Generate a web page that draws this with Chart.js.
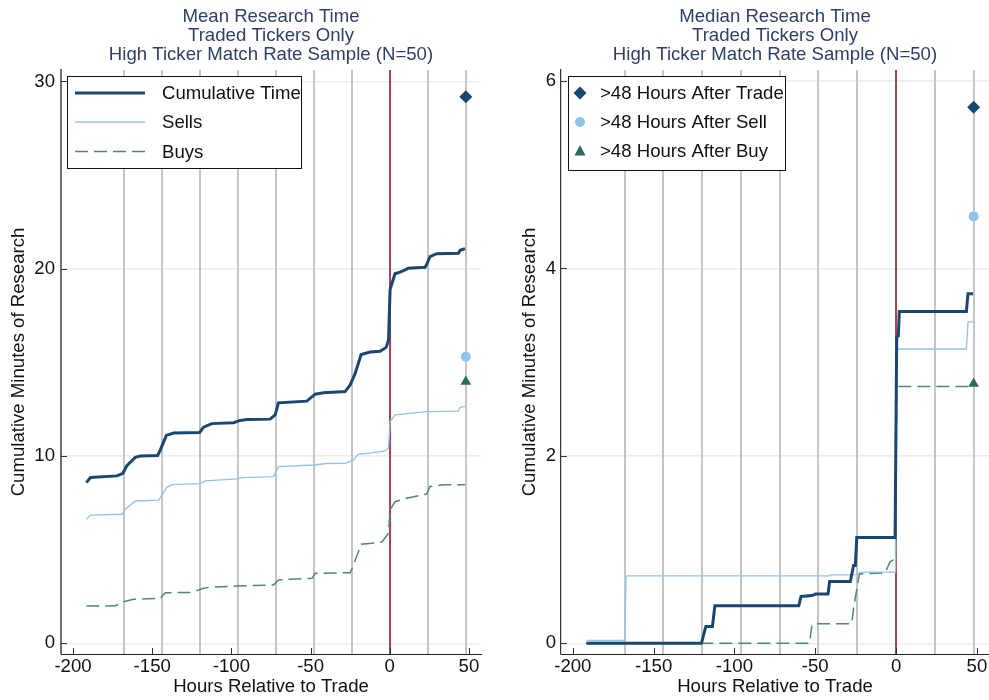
<!DOCTYPE html>
<html>
<head>
<meta charset="utf-8">
<script src="https://cdn.jsdelivr.net/npm/chart.js@4.4.1/dist/chart.umd.min.js"></script>
<style>
  body { margin: 0; background: #fff; }
  #wrap { position: relative; width: 989px; height: 700px; }
  canvas { position: absolute; top: 0; }
</style>
</head>
<body>
<div id="wrap">
  <canvas id="js--mean" width="494" height="700" style="left:0"></canvas>
  <canvas id="js--median" width="495" height="700" style="left:494px"></canvas>
</div>
<script>
// ticks en hulplijnen
const xTicks = [-200, -150, -100, -50, 0, 50];
const meanTicks = [0, 10, 20, 30];
const medianTicks = [0, 2, 4, 6];
const dayLines = [-168, -144, -120, -96, -72, -48, -24, 24, 48];
const tradeHour = 0;
const afterHour = 48;

const meanLabels = ["Cumulative Time", "Sells", "Buys"];
const medianLabels = [">48 Hours After Trade", ">48 Hours After Sell", ">48 Hours After Buy"];

// gemiddelde (links)
const meanCumHours = [-191.6, -189, -172.3, -168.5, -166, -160.7, -157.5, -146.6, -145, -141.1, -136.5, -120.1, -117.6, -112.4, -98.7, -94.4, -90.2, -75.5, -72.4, -70.3, -52.4, -47.1, -41.9, -28.2, -25, -21.9, -18.1, -12.4, -6.1, -2.3, -0.8, 0.2, 3.3, 6.5, 9.7, 11.7, 22.3, 23.7, 25.4, 29.6, 43.3, 44.4, 47.5];
const meanCumVals = [8.58, 8.85, 8.94, 9.08, 9.49, 9.93, 10.0, 10.03, 10.3, 11.1, 11.23, 11.25, 11.54, 11.73, 11.78, 11.9, 11.95, 11.97, 12.2, 12.84, 12.93, 13.3, 13.38, 13.44, 13.8, 14.4, 15.42, 15.55, 15.59, 15.8, 16.2, 18.9, 19.73, 19.82, 19.94, 20.03, 20.08, 20.3, 20.65, 20.8, 20.83, 20.98, 21.07];
const meanSellHours = [-191.6, -189, -169.1, -167, -160.7, -146, -143.9, -140.8, -137.6, -119.7, -116.5, -96.5, -93.4, -73.4, -70.3, -48.2, -39.7, -28.2, -22.9, -19.8, -12.4, -3, -0.8, 0.2, 3.3, 23.3, 43.3, 44.4, 47.5];
const meanSellVals = [6.62, 6.85, 6.89, 7.16, 7.6, 7.65, 7.92, 8.33, 8.47, 8.53, 8.67, 8.78, 8.85, 8.9, 9.43, 9.52, 9.6, 9.61, 9.79, 10.1, 10.15, 10.27, 10.42, 11.84, 12.2, 12.37, 12.4, 12.6, 12.65];
const meanBuyHours = [-191.6, -173.3, -168.1, -161.8, -144.9, -141.8, -124.9, -117.6, -113.4, -96.5, -73.4, -70.3, -65, -49.1, -47.1, -25, -22.9, -18.1, -11.4, -5.1, -0.8, 0.2, 3.3, 10.7, 23.3, 25.4, 33.8, 47.5];
const meanBuyVals = [1.99, 2.0, 2.22, 2.35, 2.4, 2.7, 2.72, 2.94, 3.0, 3.06, 3.11, 3.38, 3.42, 3.47, 3.74, 3.77, 4.18, 5.29, 5.34, 5.4, 5.88, 7.12, 7.56, 7.75, 7.97, 8.37, 8.46, 8.47];
const meanAfter = [29.18, 15.3, 13.97]; // trade, sell, buy

// mediaan (rechts)
const medCumHours = [-191.6, -120.4, -117.7, -113.6, -112.1, -60.2, -58.8, -52, -49.9, -42.1, -41.1, -28.3, -26.3, -25.2, -24.3, -0.6, 0.4, 1.4, 2.0, 43.5, 44.5, 47.6];
const medCumVals = [0, 0, 0.18, 0.18, 0.40, 0.40, 0.50, 0.51, 0.525, 0.525, 0.66, 0.66, 0.83, 0.83, 1.13, 1.13, 3.27, 3.28, 3.54, 3.54, 3.73, 3.73];
const medSellHours = [-191.6, -168, -167, -41.5, -40.5, -24.3, -22.2, -0.3, 0.4, 43.5, 44.5, 47.6];
const medSellVals = [0.03, 0.03, 0.72, 0.72, 0.73, 0.73, 0.76, 0.76, 3.14, 3.14, 3.43, 3.43];
const medBuyHours = [-191.6, -53.6, -52, -48.5, -27.4, -26.3, -23.2, -22.6, -6.8, -3.7, -1.7, -0.3, 0.4, 47.6];
const medBuyVals = [0, 0, 0.2, 0.21, 0.21, 0.37, 0.69, 0.74, 0.75, 0.87, 0.89, 0.89, 2.74, 2.74];
const medAfter = [5.72, 4.555, 2.77];

const navy = "#1a476f";
const ltblue = "#8fc3ea";
const teal = "#2d6b61";
const tealLine = "#4f857d";
const titleColor = "#2f3f63";
const fs = 18.6;

Chart.defaults.font.family = "'Liberation Sans', Arial, sans-serif";
Chart.defaults.font.size = fs;
Chart.defaults.color = "#111";

function lineSet(label, hours, vals, color, width, dash) {
    return {
        type: "line",
        label: label,
        data: hours.map((h, i) => ({x: h, y: vals[i]})),
        borderColor: color,
        borderWidth: width,
        borderDash: dash || [],
        pointRadius: 0,
        tension: 0,
        fill: false
    };
}

function markerSet(label, val, style, color, r) {
    return {
        type: "scatter",
        label: label,
        data: [{x: afterHour, y: val}],
        pointStyle: style,
        pointRadius: r,
        backgroundColor: color,
        borderColor: color,
        borderWidth: 0
    };
}

// grijze lijnen per dag, rode lijn op trade, ticks naar binnen, legenda
const decoPlugin = {
    id: "deco",
    beforeDatasetsDraw(chart) {
        const {ctx, chartArea: a} = chart;
        const x = chart.scales.x;
        ctx.save();
        ctx.lineWidth = 2;
        ctx.strokeStyle = "#c4c4c4";
        dayLines.forEach(h => {
            const px = Math.round(x.getPixelForValue(h));
            ctx.beginPath();
            ctx.moveTo(px, a.top);
            ctx.lineTo(px, a.bottom);
            ctx.stroke();
        });
        ctx.strokeStyle = "#a5474c";
        const p0 = Math.round(x.getPixelForValue(tradeHour));
        ctx.beginPath();
        ctx.moveTo(p0, a.top);
        ctx.lineTo(p0, a.bottom);
        ctx.stroke();
        ctx.restore();
    },
    afterDatasetsDraw(chart) {
        const {ctx, chartArea: a} = chart;
        const x = chart.scales.x, y = chart.scales.y;
        ctx.save();
        ctx.strokeStyle = "#333";
        ctx.lineWidth = 1;
        x.ticks.forEach(t => {
            const px = Math.round(x.getPixelForValue(t.value)) + 0.5;
            ctx.beginPath();
            ctx.moveTo(px, a.bottom);
            ctx.lineTo(px, a.bottom - 6);
            ctx.stroke();
        });
        y.ticks.forEach(t => {
            const py = Math.round(y.getPixelForValue(t.value)) + 0.5;
            ctx.beginPath();
            ctx.moveTo(a.left, py);
            ctx.lineTo(a.left + 6, py);
            ctx.stroke();
        });
        ctx.restore();
    },
    afterDraw(chart) {
        const lg = chart.options.plugins.deco;
        if (!lg) return;
        const ctx = chart.ctx;
        ctx.save();
        ctx.fillStyle = "#fff";
        ctx.fillRect(lg.box[0], lg.box[1], lg.box[2], lg.box[3]);
        ctx.strokeStyle = "#111";
        ctx.lineWidth = 1;
        ctx.strokeRect(lg.box[0] + 0.5, lg.box[1] + 0.5, lg.box[2], lg.box[3]);
        ctx.font = fs + "px 'Liberation Sans', Arial, sans-serif";
        ctx.textBaseline = "middle";
        ctx.textAlign = "left";
        lg.items.forEach((it, i) => {
            const yy = lg.rows[i];
            ctx.save();
            if (it.kind === "line") {
                ctx.strokeStyle = it.color;
                ctx.lineWidth = it.width;
                ctx.setLineDash(it.dash || []);
                ctx.beginPath();
                ctx.moveTo(lg.sample[0], yy);
                ctx.lineTo(lg.sample[1], yy);
                ctx.stroke();
            } else {
                const cx = lg.sample[0];
                ctx.fillStyle = it.color;
                ctx.beginPath();
                if (it.kind === "diamond") {
                    ctx.moveTo(cx, yy - 6.5); ctx.lineTo(cx + 6.5, yy);
                    ctx.lineTo(cx, yy + 6.5); ctx.lineTo(cx - 6.5, yy);
                } else if (it.kind === "circle") {
                    ctx.arc(cx, yy, 5, 0, Math.PI * 2);
                } else {
                    ctx.moveTo(cx, yy - 6); ctx.lineTo(cx + 5.5, yy + 4.5); ctx.lineTo(cx - 5.5, yy + 4.5);
                }
                ctx.closePath();
                ctx.fill();
            }
            ctx.restore();
            ctx.fillStyle = "#111";
            ctx.fillText(it.label, lg.textX, yy + 1);
        });
        ctx.restore();
    }
};

function makeChart(id, o) {
    return new Chart(document.getElementById(id), {
        data: {datasets: o.datasets},
        options: {
            responsive: false,
            animation: false,
            layout: {autoPadding: false, padding: {left: 0, top: 0, bottom: 0, right: o.padRight}},
            plugins: {
                legend: {display: false},
                tooltip: {enabled: false},
                title: {
                    display: true,
                    text: o.title,
                    color: titleColor,
                    fullSize: false,
                    font: {size: fs, weight: "normal", lineHeight: 19 / fs},
                    padding: {top: 7.5, bottom: 5.5}
                },
                deco: o.legend
            },
            scales: {
                x: {
                    type: "linear",
                    min: o.xMin,
                    max: o.xMax,
                    afterBuildTicks: s => { s.ticks = xTicks.map(v => ({value: v})); },
                    afterFit: s => { s.height = 46; s.paddingLeft = 0; s.paddingRight = 0; },
                    grid: {display: false, drawTicks: false},
                    border: {display: true, color: "#222", width: 1},
                    ticks: {padding: 2, color: "#111", callback: v => String(v)},
                    title: {display: true, text: "Hours Relative to Trade", color: "#111", padding: {top: 0, bottom: 2}}
                },
                y: {
                    type: "linear",
                    min: o.yMin,
                    max: o.yMax,
                    afterBuildTicks: s => { s.ticks = o.yTicks.map(v => ({value: v})); },
                    afterFit: s => { s.width = o.yWidth; s.paddingTop = 0; s.paddingBottom = 0; },
                    grid: {color: "#ececec", lineWidth: 1.5, drawTicks: false},
                    border: {display: true, color: o.yBorder, width: o.yBorderW},
                    ticks: {padding: o.yPad, color: "#111", callback: v => String(v)},
                    title: {display: true, text: "Cumulative Minutes of Research", color: "#111", padding: {top: o.yTitlePad, bottom: 0}}
                }
            }
        },
        plugins: [decoPlugin]
    });
}

makeChart("js--mean", {
    title: ["Mean Research Time", "Traded Tickers Only", "High Ticker Match Rate Sample (N=50)"],
    xMin: -207.6, xMax: 57.6, yMin: -0.57, yMax: 30.61, padRight: 13,
    yTicks: meanTicks, yWidth: 61, yPad: 6, yTitlePad: 8,
    yBorder: "#707070", yBorderW: 2,
    datasets: [
        markerSet(medianLabels[0], meanAfter[0], "rectRot", navy, 6.5),
        markerSet(medianLabels[1], meanAfter[1], "circle", ltblue, 5),
        markerSet(medianLabels[2], meanAfter[2], "triangle", teal, 6.2),
        lineSet(meanLabels[0], meanCumHours, meanCumVals, navy, 3),
        lineSet(meanLabels[1], meanSellHours, meanSellVals, ltblue, 1.3),
        lineSet(meanLabels[2], meanBuyHours, meanBuyVals, tealLine, 1.5, [13, 6])
    ],
    legend: {
        box: [67, 76, 234, 92],
        rows: [93, 122, 151.5],
        sample: [75, 145],
        textX: 162,
        items: [
            {kind: "line", label: meanLabels[0], color: navy, width: 3},
            {kind: "line", label: meanLabels[1], color: ltblue, width: 1.3},
            {kind: "line", label: meanLabels[2], color: tealLine, width: 1.5, dash: [13, 6]}
        ]
    }
});

makeChart("js--median", {
    title: ["Median Research Time", "Traded Tickers Only", "High Ticker Match Rate Sample (N=50)"],
    xMin: -207.3, xMax: 57.5, yMin: -0.114, yMax: 6.117, padRight: 0,
    yTicks: medianTicks, yWidth: 67, yPad: 5, yTitlePad: 25,
    yBorder: "#333", yBorderW: 1.2,
    datasets: [
        markerSet(medianLabels[0], medAfter[0], "rectRot", navy, 6.5),
        markerSet(medianLabels[1], medAfter[1], "circle", ltblue, 5),
        markerSet(medianLabels[2], medAfter[2], "triangle", teal, 6.2),
        lineSet(meanLabels[0], medCumHours, medCumVals, navy, 3),
        lineSet(meanLabels[1], medSellHours, medSellVals, ltblue, 1.3),
        lineSet(meanLabels[2], medBuyHours, medBuyVals, tealLine, 1.5, [13, 6])
    ],
    legend: {
        box: [74, 76, 217, 94],
        rows: [93, 122, 151],
        sample: [86, 0],
        textX: 106,
        items: [
            {kind: "diamond", label: medianLabels[0], color: navy},
            {kind: "circle", label: medianLabels[1], color: ltblue},
            {kind: "triangle", label: medianLabels[2], color: teal}
        ]
    }
});
</script>
</body>
</html>
